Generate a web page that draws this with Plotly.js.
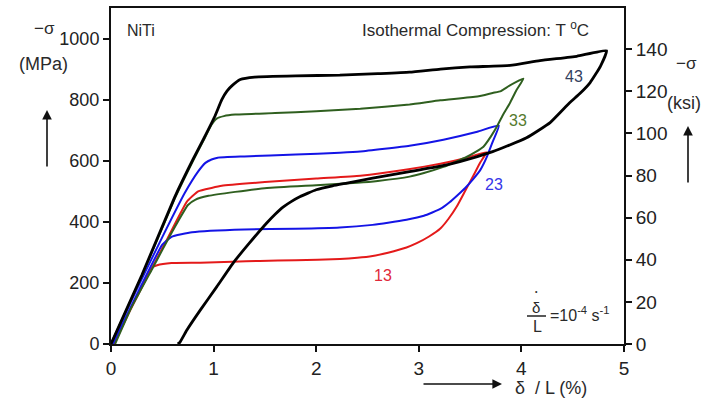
<!DOCTYPE html>
<html>
<head>
<meta charset="utf-8">
<script src="https://cdn.plot.ly/plotly-3.0.1.min.js"></script>
<style>
  html, body { margin: 0; padding: 0; background: #fff; }
  #chart { width: 707px; height: 400px; }
</style>
</head>
<body>
<div id="chart"></div>
<script>
// ---- Data (strain %, -stress MPa) ----
const strain43 = [0, 0.3, 0.62, 0.8, 0.9, 1.01, 1.08, 1.13, 1.18, 1.26, 1.4, 1.8, 2.23, 2.6, 2.91, 3.21, 3.5, 3.89, 4.18, 4.54, 4.83,
                  4.77, 4.67, 4.57, 4.47, 4.28, 4.05, 3.86, 3.72, 3.4, 3.21, 2.91, 2.55, 2.3, 2.16, 2.0, 1.92, 1.84, 1.76, 1.68, 1.6, 1.52, 1.35, 1.19, 1.03, 0.87, 0.74, 0.67, 0.65];
const stress43 = [0, 225, 480, 605, 670, 744, 800, 828, 846, 866, 874, 878, 880, 885, 890, 900, 907, 912, 928, 942, 960,
                  909, 856, 820, 790, 725, 675, 648, 630, 597, 582, 564, 543, 527, 518, 505, 494, 482, 467, 449, 425, 397, 331, 265, 187, 111, 46, 5, 0];

const strain33 = [0, 0.3, 0.62, 0.8, 0.9, 0.98, 1.03, 1.1, 1.21, 1.6, 2.0, 2.43, 2.91, 3.21, 3.57, 3.72, 3.8, 3.88, 4.02,
                  3.95, 3.89, 3.82, 3.76, 3.7, 3.63, 3.55, 3.47, 3.35, 3.24, 3.05, 2.91, 2.6, 2.4, 2.0, 1.52, 1.21, 0.95, 0.82, 0.75, 0.6, 0.4, 0.2, 0.04];
const stress33 = [0, 222, 475, 600, 665, 718, 738, 746, 751, 756, 762, 770, 784, 798, 810, 822, 828, 845, 869,
                  830, 790, 750, 711, 678, 646, 628, 613, 595, 580, 560, 548, 534, 528, 520, 511, 498, 485, 472, 455, 370, 245, 120, 0];

const strain23 = [0, 0.25, 0.5, 0.72, 0.85, 0.92, 0.98, 1.04, 1.3, 1.8, 2.23, 2.43, 2.91, 3.24, 3.57, 3.78,
                  3.72, 3.66, 3.6, 3.53, 3.45, 3.38, 3.3, 3.21, 3.05, 2.88, 2.7, 2.55, 2.23, 1.8, 1.3, 0.79, 0.59, 0.5, 0.3, 0.02];
const stress23 = [0, 178, 350, 495, 565, 593, 604, 610, 614, 620, 626, 630, 649, 669, 695, 715,
                  662, 610, 570, 540, 510, 488, 464, 442, 420, 407, 397, 390, 381, 377, 375, 366, 351, 325, 195, 0];

const strain13 = [0.02, 0.33, 0.55, 0.74, 0.85, 0.98, 1.08, 1.5, 2.0, 2.43, 2.9, 3.21, 3.45, 3.66,
                  3.6, 3.53, 3.45, 3.37, 3.29, 3.21, 3.1, 2.98, 2.88, 2.7, 2.55, 2.4, 2.23, 1.8, 1.45, 1.18, 0.87, 0.59, 0.45, 0.4, 0.2, 0.03];
const stress13 = [0, 205, 345, 466, 500, 511, 518, 530, 542, 551, 572, 590, 608, 628,
                  595, 550, 500, 450, 410, 378, 352, 330, 316, 299, 288, 282, 278, 274, 272, 269, 266, 265, 258, 250, 120, 0];

const xTicks = [0, 1, 2, 3, 4, 5];
const mpaTicks = [0, 200, 400, 600, 800, 1000];
const ksiTicks = [0, 20, 40, 60, 80, 100, 120, 140];
const MPA_PER_KSI = 6.895;
const curveLabels = ["13", "23", "33", "43"];
const labelStrain = [2.65, 3.73, 3.97, 4.51];
const labelStress = [223, 521, 731, 877];

// ---- layout helpers ----
const L = 111, R = 624, T = 8, B = 344;
const px = v => (v - L) / (R - L);
const py = v => (B - v) / (B - T);
const FONT = "Liberation Sans, Arial, sans-serif";

function line(x, y, color, w) {
  return { x: x, y: y, type: "scatter", mode: "lines", line: { color: color, width: w, shape: "spline", smoothing: 0.4 },
           hoverinfo: "skip", showlegend: false, cliponaxis: false };
}

const traces = [
  line(strain13, stress13, "#e41a1a", 2),
  line(strain23, stress23, "#1414e6", 2),
  line(strain33, stress33, "#2f5f1f", 2),
  line(strain43, stress43, "#000000", 2.8),
  { x: [0], y: [0], yaxis: "y2", type: "scatter", mode: "markers", marker: { opacity: 0 }, hoverinfo: "skip", showlegend: false }
];

const labelColors = ["#e0283a", "#3535e8", "#557a2e", "#33415e"];
const annotations = curveLabels.map((t, i) => ({
  x: labelStrain[i], y: labelStress[i], xref: "x", yref: "y", text: t, showarrow: false,
  xanchor: "center", yanchor: "middle",
  font: { family: FONT, size: 16, color: labelColors[i] }
}));

function txt(t, x, y, size, opts) {
  return Object.assign({ text: t, x: px(x), y: py(y), xref: "paper", yref: "paper", showarrow: false,
    xanchor: "center", yanchor: "middle",
    font: { family: FONT, size: size, color: "#2a2a2a" } }, opts || {});
}
function arrow(hx, hy, ax, ay) {
  return { x: px(hx), y: py(hy), xref: "paper", yref: "paper", text: "", showarrow: true,
    ax: ax, ay: ay, arrowhead: 2, arrowsize: 1.2, arrowwidth: 1.6, arrowcolor: "#111" };
}

annotations.push(
  txt("NiTi", 141, 31, 16),
  txt("Isothermal Compression: T <sup>o</sup>C", 475, 29, 17),
  txt("−σ", 44, 28, 17),
  txt("(MPa)", 43, 64, 18),
  arrow(47, 110, 0, 58),
  txt("−σ", 686, 64, 17),
  txt("(ksi)", 684, 103, 18),
  arrow(688, 126, 0, 58),
  arrow(502, 384, -80, 0),
  txt("δ  / L (%)", 551, 388, 18),
  txt("δ", 536, 307, 15),
  txt("•", 536, 291, 7),
  txt("L", 537, 326, 16),
  txt("=10<sup>-4</sup> s<sup>-1</sup>", 580, 314, 16)
);

const layout = {
  width: 707, height: 400,
  margin: { l: L, r: 707 - R, t: T, b: 400 - B, pad: 0 },
  paper_bgcolor: "#fff", plot_bgcolor: "#fff",
  font: { family: FONT, color: "#222" },
  showlegend: false,
  xaxis: {
    range: [0, 5], tickvals: xTicks, ticktext: xTicks.map(String),
    showgrid: false, zeroline: false, showline: true, linecolor: "#111", linewidth: 2,
    mirror: true, ticks: "outside", ticklen: 6, tickwidth: 2, tickcolor: "#111",
    tickfont: { family: FONT, size: 19, color: "#222" }, fixedrange: true
  },
  yaxis: {
    range: [0, 1100], tickvals: mpaTicks, ticktext: mpaTicks.map(String),
    showgrid: false, zeroline: false, showline: true, linecolor: "#111", linewidth: 2,
    ticks: "outside", ticklen: 6, tickwidth: 2, tickcolor: "#111",
    tickfont: { family: FONT, size: 18, color: "#222" }, fixedrange: true
  },
  yaxis2: {
    overlaying: "y", side: "right",
    range: [0, 1100 / MPA_PER_KSI], tickvals: ksiTicks, ticktext: ksiTicks.map(String),
    showgrid: false, zeroline: false, showline: true, linecolor: "#111", linewidth: 2,
    ticks: "outside", ticklen: 6, tickwidth: 2, tickcolor: "#111",
    tickfont: { family: FONT, size: 19, color: "#222" }, fixedrange: true
  },
  annotations: annotations,
  shapes: [
    { type: "line", xref: "paper", yref: "paper", x0: px(527), x1: px(546), y0: py(316), y1: py(316),
      line: { color: "#222", width: 1.5 } }
  ]
};

Plotly.newPlot("chart", traces, layout, { staticPlot: true, displayModeBar: false });
</script>
</body>
</html>
